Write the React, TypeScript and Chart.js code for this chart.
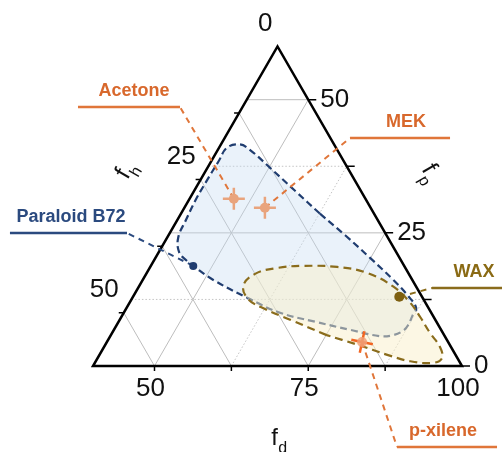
import React, { useEffect, useRef } from "react";
import { Chart, registerables } from "chart.js";

Chart.register(...registerables);

const W = 502;
const H = 452;

// ---------------- DATA (Teas ternary: fd + fp + fh = 100) ----------------
const solventNames = ["Acetone", "MEK", "p-xilene"];
const solventFd = [47.2, 53.1, 81.5];
const solventFp = [31.4, 29.7, 4.5];

const materialNames = ["Paraloid B72", "WAX"];
const materialFd = [46.9, 83.3];
const materialFp = [18.8, 13.0];

// Paraloid B72 solubility region boundary
const paraloidFd = [62.6, 68.8, 74.9, 80.7, 84.6, 87.1, 87.2, 87.4, 87.1, 85.9, 83.9, 78.4, 72.0, 65.4, 58.7, 51.4, 46.9, 45.3, 43.3, 41.8, 41.4, 41.1, 41.1, 41.2, 41.3, 43.1, 45.2, 50.2, 56.4, 62.6];
const paraloidFp = [28.6, 24.5, 20.3, 16.2, 13.2, 10.9, 9.6, 7.7, 6.6, 5.8, 5.6, 6.8, 8.3, 10.0, 12.8, 16.2, 18.8, 19.8, 21.4, 24.1, 27.5, 31.2, 35.0, 38.4, 41.0, 41.6, 40.6, 37.2, 32.9, 28.6];

// WAX solubility region boundary
const waxFd = [75.1, 67.7, 62.6, 58.9, 56.9, 57.7, 60.7, 64.8, 70.4, 75.8, 81.4, 85.5, 88.6, 91.7, 94.6, 96.0, 95.0, 91.1, 86.8, 81.0, 75.1];
const waxFp = [5.8, 8.7, 10.7, 12.6, 15.1, 17.3, 18.4, 18.8, 18.6, 17.5, 14.9, 12.0, 9.2, 6.2, 3.6, 1.5, 0.6, 0.9, 2.1, 4.0, 5.8];

// axes
const FD_MIN = 40;
const F_RANGE = 60;
const fdTicks = [50, 62.5, 75, 87.5];
const fdLabels = [50, 75, 100];
const fpTicks = [0, 12.5, 25, 37.5, 50];
const fpLabels = [0, 25, 50];
const fhTicks = [12.5, 25, 37.5, 50];
const fhLabels = [0, 25, 50];
const fpGrid = [12.5, 25, 37.5, 50];
const fdGrid = [50, 62.5, 75, 87.5];
const fhGrid = [12.5, 25, 37.5, 50];

// ---------------- STYLE / LAYOUT ----------------
const dotted = { fp: [12.5, 37.5], fd: [62.5, 87.5], fh: [] as number[] };
const ORANGE_TXT = "#d8682c";
const ORANGE = "#e0763a";
const LIGHT_ORANGE = "#e9a47d";
const NAVY = "#2b4a7f";
const NAVY_LINE = "#203d70";
const OLIVE = "#8a6a14";
const OLIVE_LINE = "#8a6c1c";
const FONT = '"Liberation Sans", Arial, Helvetica, sans-serif';

// visible window in cartesian units (x = fd + fp/2, y = fp*sqrt(3)/2)
const X_MIN = 24.88;
const X_MAX = 106.5;
const Y_MIN = -13.98;
const Y_MAX = 59.51;

const SQ = Math.sqrt(3) / 2;
const toXY = (fd: number, fp: number) => ({ x: fd + fp / 2, y: fp * SQ });

const callouts = [
  { name: solventNames[0], txt: ORANGE_TXT, line: ORANGE, fd: solventFd[0], fp: solventFp[0], elbow: [54.15, 42.11], end: [37.56, 42.11], textX: 46.67 },
  { name: solventNames[1], txt: ORANGE_TXT, line: ORANGE, fd: solventFd[1], fp: solventFp[1], elbow: [81.79, 37.07], end: [98.05, 37.07], textX: 90.9 },
  { name: solventNames[2], txt: ORANGE_TXT, line: ORANGE, fd: solventFd[2], fp: solventFp[2], elbow: [89.43, -13.17], end: [105.69, -13.17], textX: 96.91 },
  { name: materialNames[0], txt: NAVY, line: NAVY, fd: materialFd[0], fp: materialFp[0], elbow: [45.53, 21.63], end: [26.5, 21.63], textX: 36.42 },
  { name: materialNames[1], txt: OLIVE, line: OLIVE_LINE, fd: materialFd[1], fp: materialFp[1], elbow: [95.12, 12.68], end: [106.5, 12.68], textX: 101.95 },
];

function lineDs(pts: { x: number; y: number }[], color: string, width: number, dash: number[], order: number, extra: any = {}) {
  return {
    data: pts,
    borderColor: color,
    borderWidth: width,
    borderDash: dash,
    pointRadius: 0,
    pointHoverRadius: 0,
    fill: false,
    tension: 0,
    order,
    ...extra,
  };
}

function buildDatasets() {
  const ds: any[] = [];
  // grid lines
  fpGrid.forEach((v) => {
    const isDot = dotted.fp.includes(v);
    ds.push(lineDs([toXY(FD_MIN, v), toXY(100 - v, v)], isDot ? "#c4c4c4" : "#bdbdbd", 1, isDot ? [1.5, 2] : [], 100));
  });
  fdGrid.forEach((v) => {
    const isDot = dotted.fd.includes(v);
    ds.push(lineDs([toXY(v, 0), toXY(v, 100 - v)], isDot ? "#c4c4c4" : "#bdbdbd", 1, isDot ? [1.5, 2] : [], 100));
  });
  fhGrid.forEach((v) => {
    const isDot = dotted.fh.includes(v);
    ds.push(lineDs([toXY(100 - v, 0), toXY(FD_MIN, F_RANGE - v)], isDot ? "#c4c4c4" : "#bdbdbd", 1, isDot ? [1.5, 2] : [], 100));
  });
  // Paraloid region
  ds.push(
    lineDs(paraloidFd.map((d, i) => toXY(d, paraloidFp[i])), NAVY_LINE, 2.2, [7, 4], 90, {
      fill: "shape",
      backgroundColor: "rgba(195,218,242,0.35)",
      tension: 0.4,
    })
  );
  // WAX region
  ds.push(
    lineDs(waxFd.map((d, i) => toXY(d, waxFp[i])), OLIVE_LINE, 2.2, [8, 5], 80, {
      fill: "shape",
      backgroundColor: "rgba(250,240,202,0.5)",
      tension: 0.4,
    })
  );
  // triangle frame
  const bl = toXY(FD_MIN, 0);
  const br = toXY(100, 0);
  const ap = toXY(FD_MIN, F_RANGE);
  ds.push(lineDs([bl, br, ap, bl, br], "#000", 2.5, [], 70, { borderJoinStyle: "miter" }));
  // callout leaders
  callouts.forEach((c) => {
    const p = toXY(c.fd, c.fp);
    const e = { x: c.elbow[0], y: c.elbow[1] };
    const f = { x: c.end[0], y: c.end[1] };
    ds.push(lineDs([p, e], c.line, 2, [6, 5], 60));
    ds.push(lineDs([e, f], c.line, 2.5, [], 60));
  });
  // solvent markers (cross + dot)
  const solvPts = solventFd.map((d, i) => toXY(d, solventFp[i]));
  ds.push({
    data: solvPts.slice(0, 2),
    showLine: false,
    pointStyle: "cross",
    pointRadius: 11,
    pointBorderWidth: 2.5,
    pointBorderColor: LIGHT_ORANGE,
    pointBackgroundColor: LIGHT_ORANGE,
    order: 20,
  });
  ds.push({
    data: solvPts.slice(0, 2),
    showLine: false,
    pointStyle: "circle",
    pointRadius: 5,
    pointBorderWidth: 0,
    pointBackgroundColor: LIGHT_ORANGE,
    order: 15,
  });
  ds.push({
    data: solvPts.slice(2),
    showLine: false,
    pointStyle: "cross",
    pointRadius: 11,
    pointRotation: 12,
    pointBorderWidth: 2.5,
    pointBorderColor: "#f26522",
    order: 14,
  });
  ds.push({
    data: solvPts.slice(2),
    showLine: false,
    pointStyle: "circle",
    pointRadius: 5,
    pointBorderWidth: 0,
    pointBackgroundColor: "rgba(240,160,120,0.85)",
    order: 13,
  });
  // material points
  const matPts = materialFd.map((d, i) => toXY(d, materialFp[i]));
  ds.push({
    data: matPts,
    showLine: false,
    pointStyle: "circle",
    pointRadius: [4, 5],
    pointBorderWidth: 0,
    pointBackgroundColor: [NAVY_LINE, "#7d5f10"],
    order: 10,
  });
  return ds;
}

const overlayPlugin = {
  id: "ternaryOverlay",
  afterDatasetsDraw(chart: any) {
    const ctx: CanvasRenderingContext2D = chart.ctx;
    const xs = chart.scales.x;
    const ys = chart.scales.y;
    const P = (fd: number, fp: number) => {
      const c = toXY(fd, fp);
      return { x: xs.getPixelForValue(c.x), y: ys.getPixelForValue(c.y) };
    };
    const C = (x: number, y: number) => ({ x: xs.getPixelForValue(x), y: ys.getPixelForValue(y) });

    ctx.save();
    // ticks
    ctx.strokeStyle = "#000";
    ctx.lineWidth = 1.5;
    ctx.beginPath();
    fdTicks.forEach((v) => {
      const p = P(v, 0);
      ctx.moveTo(p.x, p.y);
      ctx.lineTo(p.x, p.y + 5);
    });
    fpTicks.forEach((v) => {
      const p = P(100 - v, v);
      ctx.moveTo(p.x, p.y);
      ctx.lineTo(p.x + 8, p.y);
    });
    fhTicks.forEach((v) => {
      const p = P(FD_MIN, F_RANGE - v);
      ctx.moveTo(p.x, p.y);
      ctx.lineTo(p.x - 5, p.y);
    });
    ctx.stroke();

    // tick labels
    ctx.fillStyle = "#111";
    ctx.font = `26px ${FONT}`;
    ctx.textBaseline = "middle";
    ctx.textAlign = "center";
    fdLabels.forEach((v) => {
      const p = P(v, 0);
      ctx.fillText(String(v), p.x - 4, p.y + 23);
    });
    ctx.textAlign = "left";
    fpLabels.forEach((v) => {
      const p = P(100 - v, v);
      ctx.fillText(String(v), p.x + 12, p.y);
    });
    ctx.textAlign = "right";
    fhLabels.forEach((v) => {
      const p = P(FD_MIN, F_RANGE - v);
      ctx.fillText(String(v), p.x - 5, p.y - 23);
    });

    // axis titles
    const title = (a: { x: number; y: number }, b: { x: number; y: number }, nx: number, ny: number, ang: number, sub: string) => {
      const mx = (a.x + b.x) / 2 + nx * 71;
      const my = (a.y + b.y) / 2 + ny * 71;
      ctx.save();
      ctx.translate(mx, my);
      ctx.rotate(ang);
      ctx.translate(-3, 0);
      ctx.fillStyle = "#111";
      ctx.font = `24px ${FONT}`;
      ctx.textAlign = "center";
      ctx.textBaseline = "alphabetic";
      ctx.fillText("f", 0, 8);
      const fw = ctx.measureText("f").width;
      ctx.font = `16px ${FONT}`;
      ctx.textAlign = "left";
      ctx.fillText(sub, fw / 2 + 0.5, 16);
      ctx.restore();
    };
    const pBL = P(FD_MIN, 0);
    const pBR = P(100, 0);
    const pAp = P(FD_MIN, F_RANGE);
    title(pBL, pBR, 0, 1, 0, "d");
    title(pBL, pAp, -SQ, -0.5, -Math.PI / 3, "h");
    title(pBR, pAp, SQ, -0.5, Math.PI / 3, "p");

    // callout texts
    ctx.font = `bold 18px ${FONT}`;
    ctx.textAlign = "center";
    ctx.textBaseline = "middle";
    callouts.forEach((c) => {
      const p = C(c.textX, c.end[1]);
      ctx.fillStyle = c.txt;
      ctx.fillText(c.name, p.x, p.y - 16);
    });
    ctx.restore();
  },
};

export default function App() {
  const ref = useRef<HTMLCanvasElement>(null);
  useEffect(() => {
    const canvas = ref.current;
    if (!canvas) return;
    const chart = new Chart(canvas, {
      type: "line",
      data: { datasets: buildDatasets() },
      options: {
        animation: false,
        responsive: false,
        events: [],
        layout: { padding: 0, autoPadding: false },
        scales: {
          x: { type: "linear", min: X_MIN, max: X_MAX, display: false, bounds: "data" },
          y: { type: "linear", min: Y_MIN, max: Y_MAX, display: false, bounds: "data" },
        },
        plugins: {
          legend: { display: false },
          tooltip: { enabled: false },
          filler: { drawTime: "beforeDatasetDraw" },
        },
      } as any,
      plugins: [overlayPlugin],
    });
    return () => chart.destroy();
  }, []);
  return (
    <div style={{ position: "fixed", left: 0, top: 0, width: W, height: H, background: "#fff" }}>
      <canvas ref={ref} width={W} height={H} style={{ display: "block", width: W, height: H }} />
    </div>
  );
}
